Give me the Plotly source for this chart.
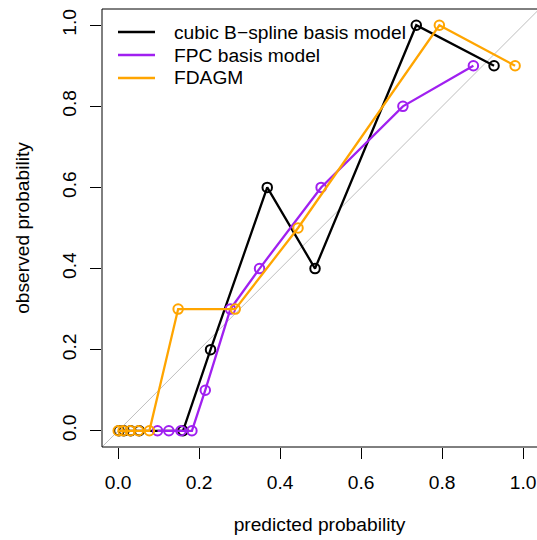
import plotly.graph_objects as go

# --- data ---
bspline_pred = [0.002, 0.014, 0.031, 0.052, 0.160, 0.228, 0.368, 0.486, 0.736, 0.928]
bspline_obs  = [0.0,   0.0,   0.0,   0.0,   0.0,   0.2,   0.6,   0.4,   1.0,   0.9]

fpc_pred = [0.097, 0.125, 0.155, 0.182, 0.215, 0.277, 0.349, 0.501, 0.703, 0.877]
fpc_obs  = [0.0,   0.0,   0.0,   0.0,   0.1,   0.3,   0.4,   0.6,   0.8,   0.9]

fdagm_pred = [0.000, 0.012, 0.030, 0.050, 0.077, 0.148, 0.289, 0.444, 0.793, 0.980]
fdagm_obs  = [0.0,   0.0,   0.0,   0.0,   0.0,   0.3,   0.3,   0.5,   1.0,   0.9]

series_names = ["cubic B\u2212spline basis model", "FPC basis model", "FDAGM"]
series_colors = ["#000000", "#A020F0", "#FFA500"]

tick_vals = [0.0, 0.2, 0.4, 0.6, 0.8, 1.0]
tick_text = ["0.0", "0.2", "0.4", "0.6", "0.8", "1.0"]

FONT = "Liberation Sans, Arial, Helvetica, sans-serif"
FS = 19.2

fig = go.Figure()

data = [(bspline_pred, bspline_obs), (fpc_pred, fpc_obs), (fdagm_pred, fdagm_obs)]
for (xs, ys), name, col in zip(data, series_names, series_colors):
    fig.add_trace(go.Scatter(
        x=xs, y=ys, mode="lines+markers", name=name, showlegend=False,
        line=dict(color=col, width=2.3),
        marker=dict(symbol="circle-open", size=9.5, color=col, line=dict(width=2, color=col)),
    ))

W, H = 537, 540
ml, mr, mt, mb = 102, 0, 9, 93
plot_w = W - ml - mr
plot_h = H - mt - mb
px_per_unit = 405.0
xr0 = -0.04
xr1 = xr0 + plot_w / px_per_unit

# legend drawn like R's legend(): line keys + text, no box
leg_row_px = [32, 55, 78]
key_x0_px, key_x1_px, text_x_px = 118, 155, 172
for name, col, ry in zip(series_names, series_colors, leg_row_px):
    yp = 1 - (ry - mt) / plot_h
    fig.add_shape(type="line", xref="paper", yref="paper",
                  x0=(key_x0_px - ml) / plot_w, x1=(key_x1_px - ml) / plot_w, y0=yp, y1=yp,
                  line=dict(color=col, width=2.3))
    fig.add_annotation(xref="paper", yref="paper", x=(text_x_px - ml) / plot_w, y=yp,
                       xanchor="left", yanchor="middle", text=name, showarrow=False,
                       font=dict(family=FONT, size=FS, color="black"))

# reference diagonal y = x
fig.add_shape(type="line", xref="x", yref="y", x0=-0.1, y0=-0.1, x1=1.2, y1=1.2,
              line=dict(color="#BEBEBE", width=1), layer="below")
# plot frame (right edge falls outside the window as in the reference)
fig.add_shape(type="rect", xref="paper", yref="paper", x0=0, y0=0, x1=1.02, y1=1,
              line=dict(color="#000000", width=1))

fig.update_layout(
    width=W, height=H, autosize=False,
    margin=dict(l=ml, r=mr, t=mt, b=mb, pad=0),
    paper_bgcolor="white", plot_bgcolor="white",
    font=dict(family=FONT, size=FS, color="black"),
    showlegend=False,
    xaxis=dict(range=[xr0, xr1], tickmode="array", tickvals=tick_vals, ticktext=tick_text,
               ticks="outside", ticklen=11, tickwidth=1, tickcolor="black",
               ticklabelstandoff=7,
               showgrid=False, zeroline=False, showline=False,
               title=dict(text="predicted probability", standoff=25,
                          font=dict(family=FONT, size=FS))),
    yaxis=dict(range=[-0.04, 1.04], tickmode="array", tickvals=tick_vals, ticktext=tick_text,
               ticks="outside", ticklen=11, tickwidth=1, tickcolor="black", tickangle=-90,
               ticklabelstandoff=6,
               showgrid=False, zeroline=False, showline=False,
               title=dict(text="observed probability", standoff=24,
                          font=dict(family=FONT, size=FS))),
)

fig.write_html("out.html")
